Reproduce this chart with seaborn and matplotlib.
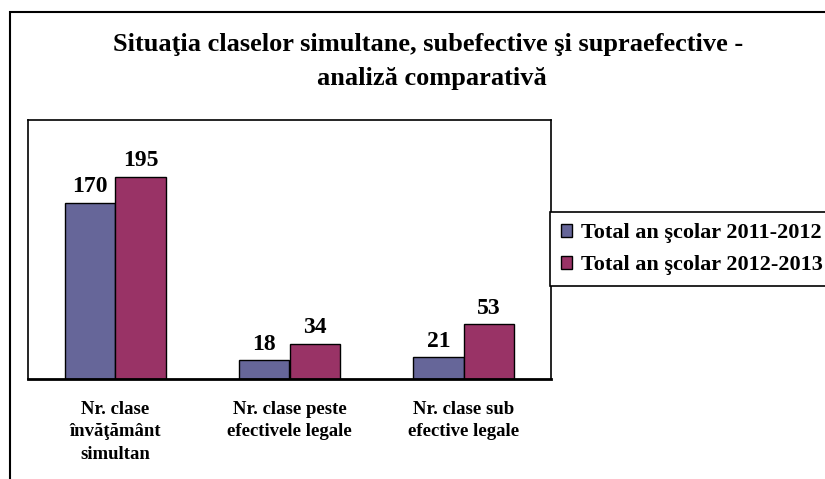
import matplotlib
matplotlib.use('Agg')
from matplotlib import pyplot as plt
from matplotlib.patches import Rectangle
import seaborn as sns
import pandas as pd

# Date: clase simultane / peste efective / sub efective
categorii = ['Nr. clase\nînvăţământ\nsimultan', 'Nr. clase peste\nefectivele legale', 'Nr. clase sub\nefective legale']
an_2011_2012 = [170, 18, 21]
an_2012_2013 = [195, 34, 53]
serii = ['Total an şcolar 2011-2012', 'Total an şcolar 2012-2013']
culori = ['#666699', '#993366']

df = pd.DataFrame({
    'categorie': categorii * 2,
    'valoare': an_2011_2012 + an_2012_2013,
    'serie': [serii[0]] * 3 + [serii[1]] * 3,
})

sns.set_style('white')
plt.rcParams['font.family'] = ['Liberation Serif', 'DejaVu Serif']
plt.rcParams['font.weight'] = 'bold'
plt.rcParams['text.color'] = 'black'
plt.rcParams['xtick.color'] = 'black'
plt.rcParams['xtick.labelcolor'] = 'black'

fig = plt.figure(figsize=(8.25, 4.79), dpi=100)
ax = fig.add_axes([28 / 825, 1 - 379 / 479, (551 - 28) / 825, (379 - 120) / 479])

sns.barplot(data=df, x='categorie', y='valoare', hue='serie', palette=culori,
            width=0.58, edgecolor='black', linewidth=1, saturation=1, ax=ax)

for cont in ax.containers:
    ax.bar_label(cont, fmt='%d', padding=4, fontsize=17, fontweight='bold', color='black')

ax.set_ylim(0, 250)
ax.set_xlim(-0.5, 2.5)
ax.set_xlabel('')
ax.set_ylabel('')
ax.set_yticks([])
ax.tick_params(axis='x', which='major', length=0, pad=16, labelsize=13.5, labelcolor='black')
ax.set_xticks([-0.5, 0.5, 1.5, 2.5], minor=True)
ax.tick_params(axis='x', which='minor', length=6, width=1.2, color='black', direction='out')
for lab in ax.get_xticklabels():
    lab.set_fontweight('bold')
    lab.set_linespacing(1.4)
for sp in ax.spines.values():
    sp.set_color('black')
    sp.set_linewidth(1.2)
ax.spines['bottom'].set_linewidth(2)

leg = ax.legend(loc='upper left', bbox_to_anchor=(550 / 825, 1 - 212 / 479),
                bbox_transform=fig.transFigure, fancybox=False, edgecolor='black',
                framealpha=1, borderaxespad=0, prop={'size': 16, 'weight': 'bold'},
                handlelength=0.5, handleheight=0.5, handletextpad=0.4,
                labelspacing=0.55, borderpad=0.5)
leg.get_frame().set_linewidth(1.2)
for t in leg.get_texts():
    t.set_color('black')

fig.text(428 / 825, 1 - 45 / 479, 'Situaţia claselor simultane, subefective şi supraefective -',
         ha='center', va='center', fontsize=19, fontweight='bold', color='black')
fig.text(432 / 825, 1 - 79 / 479, 'analiză comparativă',
         ha='center', va='center', fontsize=19, fontweight='bold', color='black')

# chenarul exterior
fig.patches.append(Rectangle((10 / 825, -0.1), 1.2, 1 - 12 / 479 + 0.1, transform=fig.transFigure,
                             fill=False, edgecolor='black', linewidth=1.5, clip_on=False))

fig.savefig('out.png', dpi=100)
